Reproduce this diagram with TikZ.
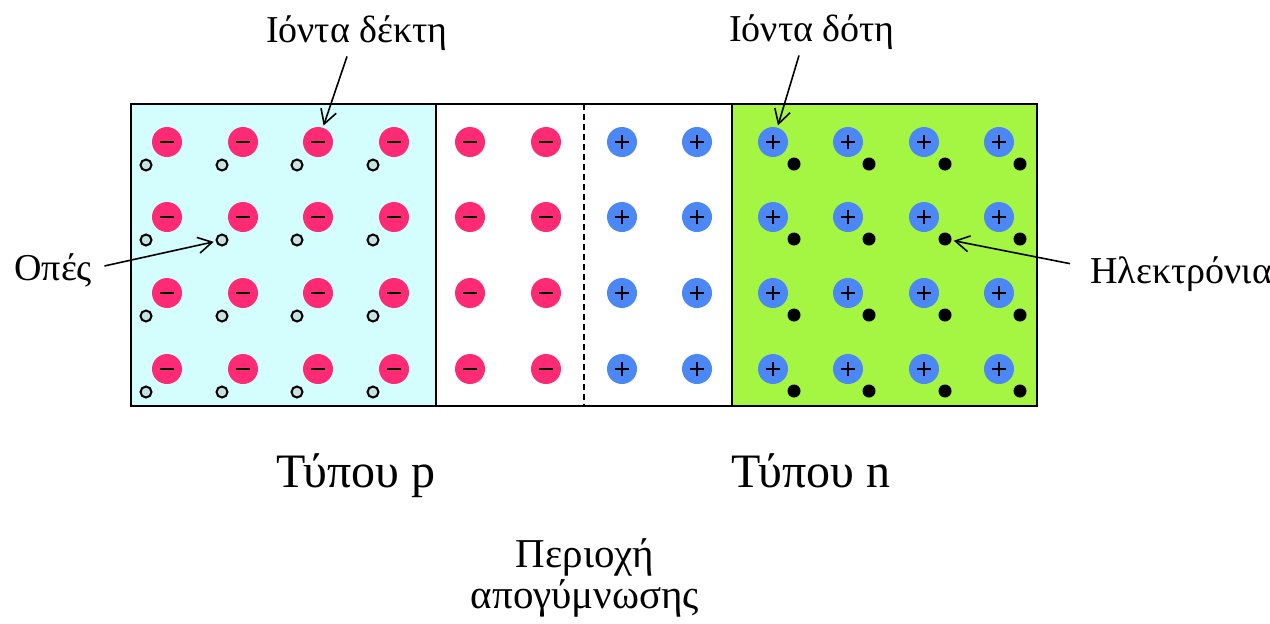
\documentclass[tikz,border=0pt]{standalone}
\usepackage{fontspec}
\setmainfont{Liberation Serif}
\usetikzlibrary{arrows.meta}
\definecolor{pside}{HTML}{D4FDFE}
\definecolor{nside}{HTML}{A5F543}
\definecolor{accred}{HTML}{FE2B74}
\definecolor{donblue}{HTML}{4B87F5}
\definecolor{holefill}{HTML}{C6E2E2}
\tikzset{
  ion/.style={circle, minimum size=15pt, inner sep=0pt},
  accion/.style={ion, fill=accred, path picture={
      \draw[line width=1.4pt] ([xshift=-3.5pt]path picture bounding box.center)
        -- ([xshift=3.5pt]path picture bounding box.center);}},
  donion/.style={ion, fill=donblue, path picture={
      \draw[line width=1.4pt] ([xshift=-3.7pt]path picture bounding box.center)
        -- ([xshift=3.7pt]path picture bounding box.center);
      \draw[line width=1.4pt] ([yshift=-3.7pt]path picture bounding box.center)
        -- ([yshift=3.7pt]path picture bounding box.center);}},
  hole/.style={circle, draw, line width=1pt, fill=holefill, minimum size=5.5pt, inner sep=0pt},
  elec/.style={circle, fill=black, minimum size=6.5pt, inner sep=0pt},
  lbl/.style={font=\fontsize{19}{23}\selectfont, inner sep=1pt},
  typ/.style={font=\fontsize{24}{29}\selectfont, anchor=base},
  arr/.style={-{Straight Barb[length=7pt,width=8pt]}, line width=0.8pt, shorten >=1pt}
}
\begin{document}
\begin{tikzpicture}[x=0.5pt, y=-0.5pt]
  \useasboundingbox (0,0) rectangle (1270,623);
  \draw[line width=1pt, fill=pside] (131,104) rectangle (436,406);
  \draw[line width=1pt] (436,104) rectangle (732,406);
  \draw[line width=1pt, fill=nside] (732,104) rectangle (1037,406);
  \draw[line width=0.8pt, dash pattern=on 3pt off 2pt] (584,104) -- (584,406);
  \foreach \i/\x in {1/167,2/243,3/318,4/394}
    \foreach \j/\y in {1/142,2/217,3/293,4/369} {
      \node[accion] (a-\i-\j) at (\x,\y) {};
      \node[hole] (h-\i-\j) at (\x-21,\y+23) {};
    }
  \foreach \i/\x in {1/470,2/546}
    \foreach \j/\y in {1/142,2/217,3/293,4/369}
      \node[accion] (m-\i-\j) at (\x,\y) {};
  \foreach \i/\x in {1/622,2/697}
    \foreach \j/\y in {1/142,2/217,3/293,4/369}
      \node[donion] (q-\i-\j) at (\x,\y) {};
  \foreach \i/\x in {1/773,2/848,3/924,4/999}
    \foreach \j/\y in {1/142,2/217,3/293,4/369} {
      \node[donion] (d-\i-\j) at (\x,\y) {};
      \node[elec] (e-\i-\j) at (\x+21,\y+22) {};
    }
  \node[lbl, anchor=base] (acc) at (357,42) {Ιόντα δέκτη};
  \node[lbl, anchor=base] (don) at (812,41) {Ιόντα δότη};
  \node[lbl, anchor=base west] (hol) at (12,280) {Οπές};
  \node[lbl, anchor=base west] (ele) at (1088,283) {Ηλεκτρόνια};
  \node[typ] (ptype) at (356,487) {Τύπου p};
  \node[typ] (ntype) at (811,487) {Τύπου n};
  \node[font=\fontsize{20.5}{20.5}\selectfont, align=center, anchor=base] (depl) at (585,608) {Περιοχή\\απογύμνωσης};
  \draw[arr] ([xshift=-5pt,yshift=-2pt]acc.south) -- (a-3-1);
  \draw[arr] ([xshift=-6.5pt,yshift=-2pt]don.south) -- (d-1-1);
  \draw[arr] ([xshift=5pt,yshift=2pt]hol.east) -- (h-2-2);
  \draw[arr] ([xshift=-9pt,yshift=5pt]ele.west) -- (e-3-2);
\end{tikzpicture}
\end{document}
